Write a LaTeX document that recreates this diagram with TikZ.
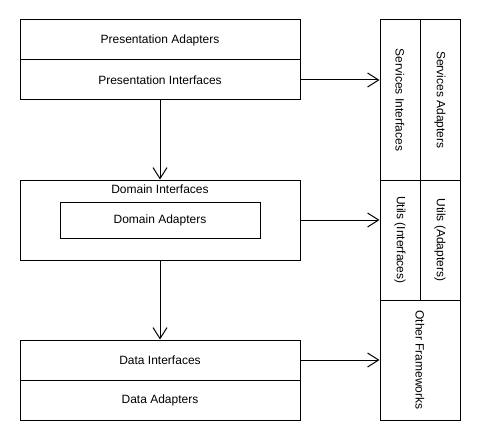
\documentclass[tikz,border=0pt]{standalone}
\usepackage{fontspec}
\setmainfont{Liberation Sans}
\usetikzlibrary{arrows.meta}

\newcommand{\down}[1]{\rotatebox{-90}{#1}}

\begin{document}
\begin{tikzpicture}[x=1pt, y=-1pt, line width=1pt, font=\fontsize{12}{14}\selectfont,
		layer/.style={draw, rectangle, minimum width=280pt, minimum height=40pt, inner sep=0pt},
		part/.style={draw, rectangle, minimum width=40pt, minimum height=160pt, inner sep=0pt},
		link/.style={-{Straight Barb[length=11pt, width=14pt, line width=1pt]}}]
		\useasboundingbox (0,0) rectangle (481,441);
		\node (presA) [layer] at (160,40) {Presentation Adapters};
		\node (presI) [layer] at (160,80) {Presentation Interfaces};
		\node (dom) [layer, minimum height=80pt] at (160,220) {};
		\node (domI) [anchor=north, inner sep=0pt] at (160,184) {Domain Interfaces};
		\node (domA) [layer, minimum width=200pt, minimum height=36pt] at (160,220) {Domain Adapters};
		\node (dataI) [layer] at (160,360) {Data Interfaces};
		\node (dataA) [layer] at (160,400) {Data Adapters};
		%rechte Spalte
		\node (servI) [part] at (400,100) {\down{Services Interfaces}};
		\node (servA) [part] at (440,100) {\down{Services Adapters}};
		\node (utilI) [part, minimum height=120pt] at (400,240) {\down{Utils (Interfaces)}};
		\node (utilA) [part, minimum height=120pt] at (440,240) {\down{Utils (Adapters)}};
		\node (other) [part, minimum width=80pt, minimum height=120pt] at (420,360) {\down{Other Frameworks}};
		\draw [link] (presI.south) to (dom.north);
		\draw [link] (dom.south) to (dataI.north);
		\draw [link] (presI.east) to (presI.east -| servI.west);
		\draw [link] (dom.east) to (dom.east -| utilI.west);
		\draw [link] (dataI.east) to (other.west);
	\end{tikzpicture}
\end{document}
